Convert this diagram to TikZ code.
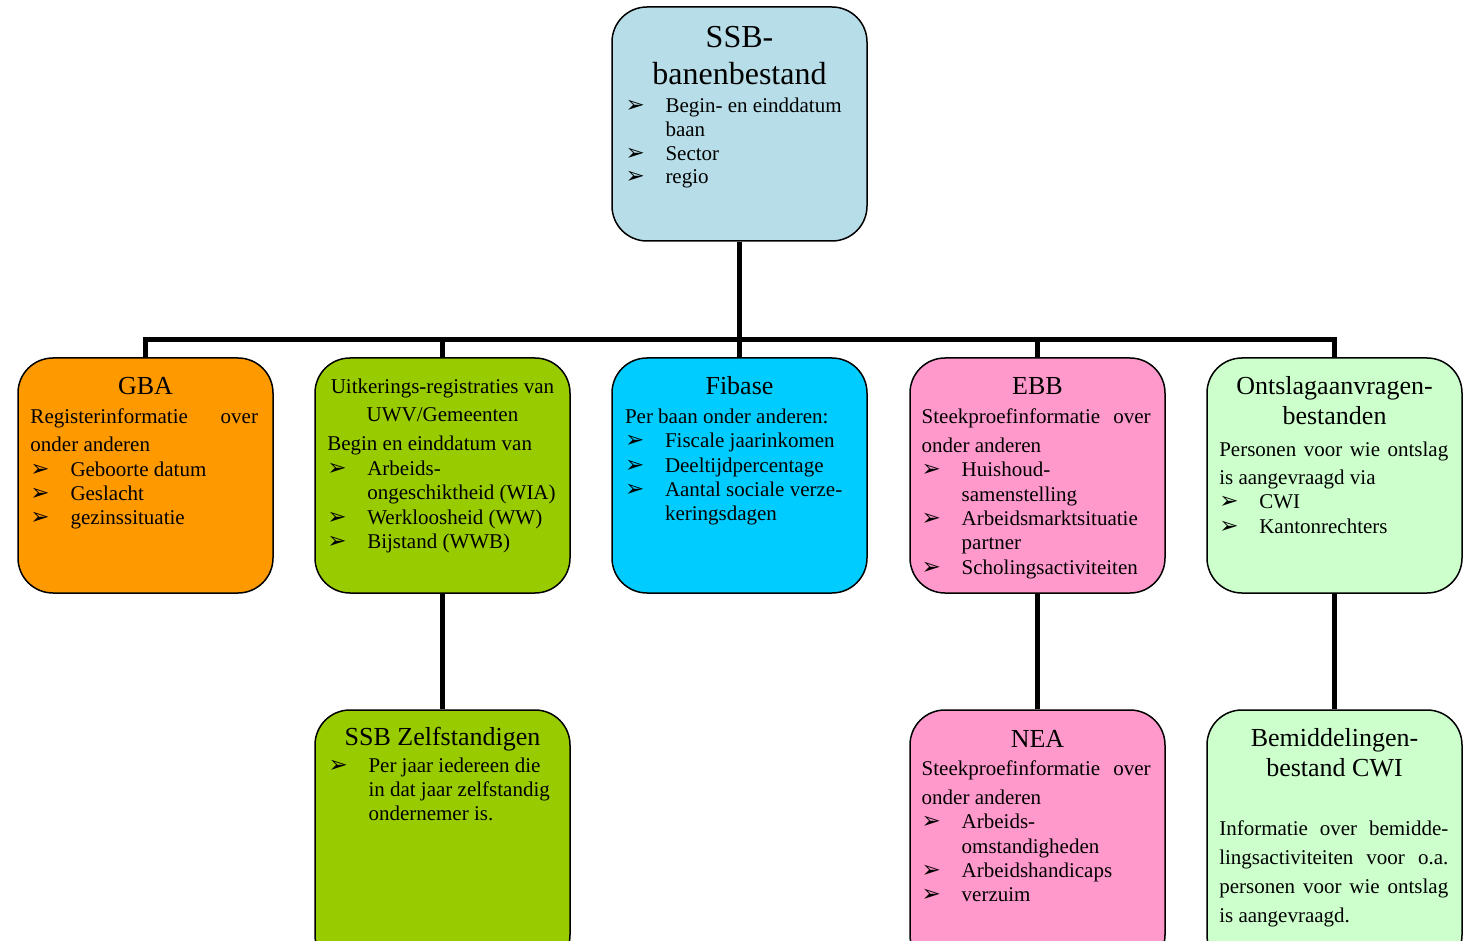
\documentclass[tikz,border=0pt]{standalone}
\usepackage{fontspec}
\setmainfont{Liberation Serif}
\newfontfamily\djfont{DejaVu Sans}
\definecolor{cssb}{HTML}{B7DEE8}
\definecolor{cgba}{HTML}{FF9900}
\definecolor{cuwv}{HTML}{99CC00}
\definecolor{cfib}{HTML}{00CCFF}
\definecolor{cebb}{HTML}{FF99CC}
\definecolor{cont}{HTML}{CCFFCC}
\newcommand{\bu}{\makebox[40pt][l]{\smash{{\djfont\fontsize{23}{23}\selectfont ➢}}}}
\newcommand{\ci}{\hspace*{40pt}}
\newcommand{\jl}[2][229pt]{\makebox[#1][s]{#2}}
\newcommand{\btitle}[3]{\parbox[t]{250pt}{\parskip=0pt\centering\fontsize{#1}{#2}\selectfont #3}}
\newcommand{\bbody}[2][24.4]{\parbox[t]{250pt}{\parskip=0pt\raggedright\fontsize{21}{#1}\selectfont #2}}
\tikzset{
  box/.style={draw, line width=1.5pt, rounded corners=35pt, minimum width=255pt, minimum height=235pt, inner sep=0pt},
  lowbox/.style={box, minimum height=260pt},
  conn/.style={line width=4.5pt, line join=miter},
  txt/.style={inner sep=0pt, outer sep=0pt, anchor=base west},
  ttl/.style={inner sep=0pt, outer sep=0pt, anchor=base}
}
\begin{document}
\begin{tikzpicture}[x=1pt,y=-1pt]
\useasboundingbox (0,0) rectangle (1468,941);
\clip (0,0) rectangle (1468,941);
% boxes
\node[box, minimum height=234pt, fill=cssb] (ssb) at (739.5,124) {};
\node[box, fill=cgba] (gba) at (145.5,475.5) {};
\node[box, fill=cuwv] (uwv) at (442.5,475.5) {};
\node[box, fill=cfib] (fib) at (739.5,475.5) {};
\node[box, fill=cebb] (ebb) at (1037.5,475.5) {};
\node[box, fill=cont] (ont) at (1334.5,475.5) {};
\node[lowbox, fill=cuwv] (zelf) at (442.5,840) {};
\node[lowbox, fill=cebb] (nea) at (1037.5,840) {};
\node[lowbox, fill=cont] (bem) at (1334.5,840) {};
% connectors
\coordinate (bus) at (739.5,339.5);
\draw[conn] (ssb.south) -- (bus);
\draw[conn] (gba.north) |- (bus);
\draw[conn] (uwv.north) |- (bus);
\draw[conn] (fib.north) -- (bus);
\draw[conn] (ebb.north) |- (bus);
\draw[conn] (ont.north) |- (bus);
\draw[conn] (uwv.south) -- (zelf.north);
\draw[conn] (ebb.south) -- (nea.north);
\draw[conn] (ont.south) -- (bem.north);
% SSB top
\node[ttl] (ssbT) at (739.5,48) {\btitle{32}{37}{SSB-\\banenbestand}};
\node[txt] (ssbB) at (625.5,112.5) {\bbody[23.8]{\bu Begin- en einddatum\\
\ci baan\\
\bu Sector\\
\bu regio}};
% GBA
\node[ttl] (gbaT) at (145.5,395) {\btitle{26}{30}{GBA}};
\node[txt] (gbaB) at (30.5,423.3) {\bbody{\jl[227.5pt]{Registerinformatie over}\\[4pt]
onder anderen\\
\bu Geboorte datum\\
\bu Geslacht\\
\bu gezinssituatie}};
% UWV
\node[ttl] (uwvT) at (442.5,393.3) {\btitle{21}{28.4}{Uitkerings-registraties van\\UWV/Gemeenten}};
\node[txt] (uwvB) at (327.3,450) {\bbody{Begin en einddatum van\\[1pt]
\bu Arbeids-\\
\ci ongeschiktheid (WIA)\\
\bu Werkloosheid (WW)\\
\bu Bijstand (WWB)}};
% Fibase
\node[ttl] (fibT) at (739.5,395) {\btitle{26}{30}{Fibase}};
\node[txt] (fibB) at (625,423.3) {\bbody{Per baan onder anderen:\\
\bu Fiscale jaarinkomen\\
\bu Deeltijdpercentage\\
\bu Aantal sociale verze-\\
\ci keringsdagen}};
% EBB
\node[ttl] (ebbT) at (1037.5,395) {\btitle{26}{30}{EBB}};
\node[txt] (ebbB) at (921.7,423.3) {\bbody{\jl{Steekproefinformatie \hspace{8pt}over}\\[4.5pt]
onder anderen\\
\bu Huishoud-\\
\ci samenstelling\\
\bu Arbeidsmarktsituatie\\
\ci partner\\
\bu Scholingsactiviteiten}};
% Ontslag
\node[ttl] (ontT) at (1334.5,395) {\btitle{26}{30}{Ontslagaanvragen-\\bestanden}};
\node[txt] (ontB) at (1219.3,456.5) {\bbody{\jl{Personen voor wie ontslag}\\[3.5pt]
is aangevraagd via\\
\bu CWI\\
\bu Kantonrechters}};
% SSB Zelfstandigen
\node[ttl] (zelfT) at (442.5,745) {\btitle{26}{30}{SSB Zelfstandigen}};
\node[txt] (zelfB) at (328.5,772) {\bbody[24.2]{\bu Per jaar iedereen die\\
\ci in dat jaar zelfstandig\\
\ci ondernemer is.}};
% NEA
\node[ttl] (neaT) at (1037.5,747) {\btitle{26}{30}{NEA}};
\node[txt] (neaB) at (921.7,775.3) {\bbody{\jl{Steekproefinformatie \hspace{8pt}over}\\[4.5pt]
onder anderen\\
\bu Arbeids-\\
\ci omstandigheden\\
\bu Arbeidshandicaps\\
\bu verzuim}};
% Bemiddelingen
\node[ttl] (bemT) at (1334.5,746.7) {\btitle{26}{30}{Bemiddelingen-\\bestand CWI}};
\node[txt] (bemB) at (1219.3,835) {\bbody[29]{\jl{Informatie over bemidde-}\\
\jl{lingsactiviteiten voor o.a.}\\
\jl{personen voor wie ontslag}\\
is aangevraagd.}};
\end{tikzpicture}
\end{document}
